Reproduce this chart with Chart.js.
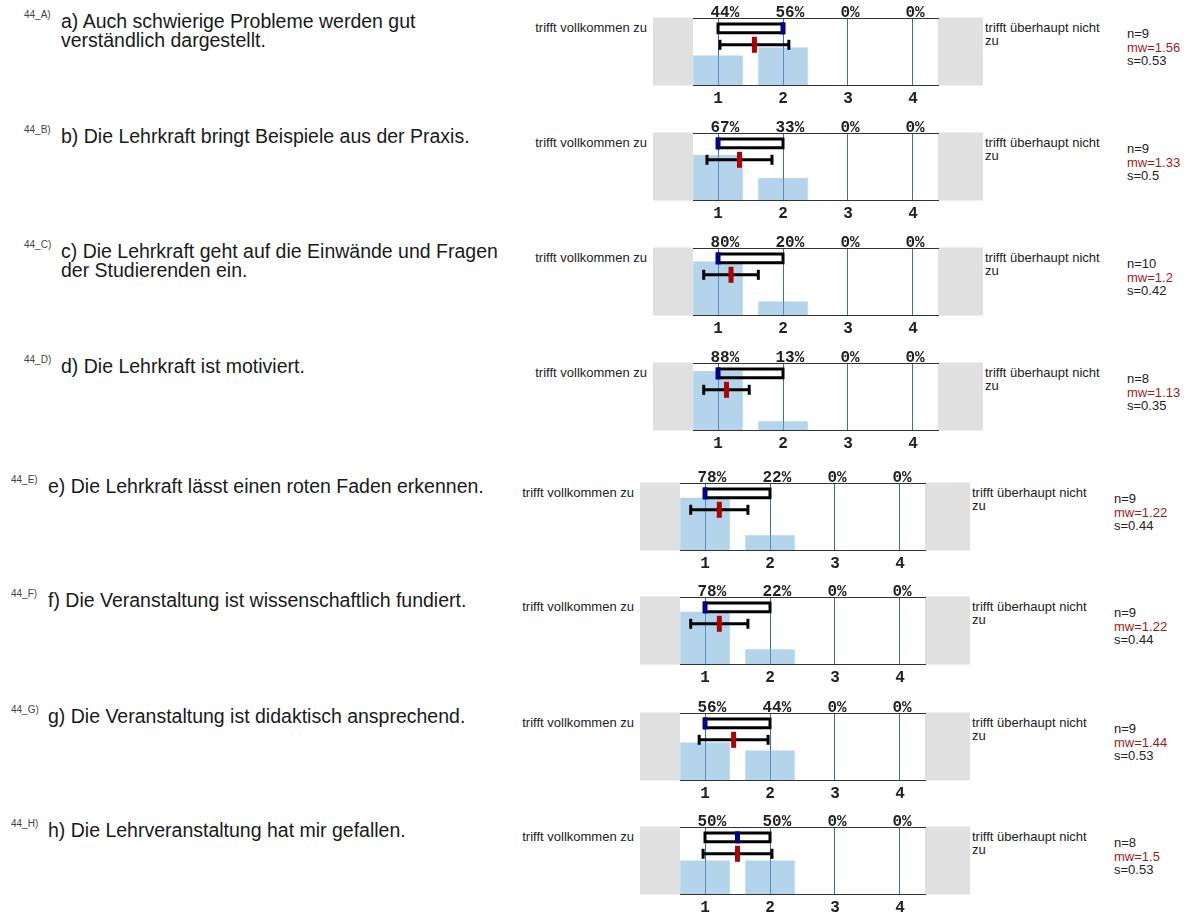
<!DOCTYPE html>
<html lang="de">
<head>
<meta charset="UTF-8">
<title>Auswertung</title>
<script src="https://cdn.jsdelivr.net/npm/chart.js"></script>
<style>
    body { margin: 0; background: #fff; width: 1189px; height: 913px; position: relative; overflow: hidden;
           font-family: "Liberation Sans", Arial, sans-serif; color: #111; }
    .row { position: absolute; left: 0; width: 1189px; height: 110px; }
    .code { position: absolute; font-size: 10px; line-height: 10px; color: #444; }
    .question { position: absolute; font-size: 19.5px; line-height: 19px; white-space: pre-line; color: #1a1a1a; }
    .pole-left { position: absolute; font-size: 13px; line-height: 13px; width: 140px; text-align: right; color: #222; }
    .pole-right { position: absolute; font-size: 13px; line-height: 13px; white-space: pre-line; color: #222; }
    .stats { position: absolute; font-size: 13px; line-height: 13.5px; color: #222; }
    .stats .mw { color: #9e1b1b; }
    canvas { position: absolute; top: 0; }
</style>
</head>
<body>
<div id="page"></div>
<script>
    // Werte aus der Auswertung
    const codes = ['44_A)', '44_B)', '44_C)', '44_D)', '44_E)', '44_F)', '44_G)', '44_H)'];
    const questions = [
        'a) Auch schwierige Probleme werden gut\nverständlich dargestellt.',
        'b) Die Lehrkraft bringt Beispiele aus der Praxis.',
        'c) Die Lehrkraft geht auf die Einwände und Fragen\nder Studierenden ein.',
        'd) Die Lehrkraft ist motiviert.',
        'e) Die Lehrkraft lässt einen roten Faden erkennen.',
        'f) Die Veranstaltung ist wissenschaftlich fundiert.',
        'g) Die Veranstaltung ist didaktisch ansprechend.',
        'h) Die Lehrveranstaltung hat mir gefallen.'
    ];
    const scaleValues = [1, 2, 3, 4];
    const percents = [
        [44, 56, 0, 0],
        [67, 33, 0, 0],
        [80, 20, 0, 0],
        [88, 13, 0, 0],
        [78, 22, 0, 0],
        [78, 22, 0, 0],
        [56, 44, 0, 0],
        [50, 50, 0, 0]
    ];
    const nValues = [9, 9, 10, 8, 9, 9, 9, 8];
    const means = [1.56, 1.33, 1.2, 1.13, 1.22, 1.22, 1.44, 1.5];
    const stdDevs = [0.53, 0.5, 0.42, 0.35, 0.44, 0.44, 0.53, 0.53];
    const quartile1 = [1, 1, 1, 1, 1, 1, 1, 1];
    const quartile3 = [2, 2, 2, 2, 2, 2, 2, 2];
    const medians = [2, 1, 1, 1, 1, 1, 1, 1.5];
    const leftPole = 'trifft vollkommen zu';
    const rightPole = 'trifft überhaupt nicht\nzu';

    // Layout
    const rowTops = [18, 133, 248, 363, 483, 597, 713, 827];
    const rowShift = [0, 0, 0, 0, -13, -13, -13, -13];
    const TOP_AXIS = 20, BOTTOM_AXIS = 22, PLOT_H = 67;
    const GRAY_L = 40, GRAY_R = 45, PLOT_W = 245;
    const BOX_HI = 91, BOX_LO = 78, ERR_Y = 60;

    const grayBoxes = {
        id: 'grayBoxes',
        beforeDraw(chart) {
            const a = chart.chartArea, ctx = chart.ctx;
            ctx.save();
            ctx.fillStyle = '#e0e0e0';
            ctx.fillRect(a.left - GRAY_L, a.top - 0.5, GRAY_L, a.bottom - a.top + 1);
            ctx.fillRect(a.right, a.top - 0.5, GRAY_R, a.bottom - a.top + 1);
            ctx.restore();
        }
    };

    function fixedTicks(scale) {
        scale.ticks = scaleValues.map(v => ({ value: v }));
    }

    const page = document.getElementById('page');

    questions.forEach((q, i) => {
        const sx = rowShift[i];
        const row = document.createElement('div');
        row.className = 'row';
        row.style.top = (rowTops[i] - TOP_AXIS) + 'px';

        const code = document.createElement('div');
        code.className = 'code';
        code.style.left = (25 + sx - 1) + 'px';
        code.style.top = '12px';
        code.textContent = codes[i];
        row.appendChild(code);

        const qt = document.createElement('div');
        qt.className = 'question';
        qt.style.left = (62 + sx - 1) + 'px';
        qt.style.top = '14px';
        qt.textContent = q;
        row.appendChild(qt);

        const chartLeft = 653 + sx;
        const pl = document.createElement('div');
        pl.className = 'pole-left';
        pl.style.left = (chartLeft - 6 - 140) + 'px';
        pl.style.top = '23px';
        pl.textContent = leftPole;
        row.appendChild(pl);

        const pr = document.createElement('div');
        pr.className = 'pole-right';
        pr.style.left = (chartLeft + GRAY_L + PLOT_W + GRAY_R + 2) + 'px';
        pr.style.top = '23px';
        pr.textContent = rightPole;
        row.appendChild(pr);

        const st = document.createElement('div');
        st.className = 'stats';
        st.style.left = (1127 + sx) + 'px';
        st.style.top = '29px';
        st.innerHTML = 'n=' + nValues[i] + '<br><span class="mw">mw=' + means[i] + '</span><br>s=' + stdDevs[i];
        row.appendChild(st);

        const canvas = document.createElement('canvas');
        canvas.width = GRAY_L + PLOT_W + GRAY_R;
        canvas.height = TOP_AXIS + PLOT_H + BOTTOM_AXIS;
        canvas.style.left = chartLeft + 'px';
        row.appendChild(canvas);
        page.appendChild(row);

        const m = means[i], s = stdDevs[i];
        new Chart(canvas.getContext('2d'), {
            type: 'scatter',
            data: {
                datasets: [
                    {
                        type: 'bar',
                        data: scaleValues.map((v, k) => ({ x: v, y: percents[i][k] })),
                        backgroundColor: 'rgba(112, 172, 216, 0.52)',
                        barPercentage: 0.763,
                        categoryPercentage: 1,
                        order: 10
                    },
                    {
                        type: 'line',
                        data: [
                            { x: quartile1[i], y: BOX_HI }, { x: quartile3[i], y: BOX_HI },
                            { x: quartile3[i], y: BOX_LO }, { x: quartile1[i], y: BOX_LO },
                            { x: quartile1[i], y: BOX_HI }
                        ],
                        borderColor: '#000',
                        borderWidth: 3,
                        borderJoinStyle: 'miter',
                        borderCapStyle: 'square',
                        pointRadius: 0,
                        fill: false,
                        order: 5
                    },
                    {
                        type: 'line',
                        data: [{ x: m - s, y: ERR_Y }, { x: m + s, y: ERR_Y }],
                        borderColor: '#000',
                        borderWidth: 3,
                        pointStyle: 'line',
                        pointRotation: 90,
                        pointRadius: 5,
                        pointBorderWidth: 3,
                        pointBorderColor: '#000',
                        fill: false,
                        order: 4
                    },
                    {
                        data: [{ x: medians[i], y: (BOX_HI + BOX_LO) / 2 }],
                        pointStyle: 'line',
                        pointRotation: 90,
                        pointRadius: 6,
                        pointBorderWidth: 5,
                        pointBorderColor: '#00008b',
                        order: 1
                    },
                    {
                        data: [{ x: m, y: ERR_Y }],
                        pointStyle: 'line',
                        pointRotation: 90,
                        pointRadius: 8,
                        pointBorderWidth: 5,
                        pointBorderColor: '#b00000',
                        order: 0
                    }
                ]
            },
            options: {
                responsive: false,
                animation: false,
                events: [],
                layout: { padding: { left: GRAY_L, right: GRAY_R, top: 0, bottom: 0 } },
                plugins: { legend: { display: false }, tooltip: { enabled: false } },
                scales: {
                    x: {
                        type: 'linear', position: 'bottom', min: 0.615, max: 4.385, bounds: 'data', offset: false,
                        afterBuildTicks: fixedTicks,
                        afterFit: sc => { sc.height = BOTTOM_AXIS; },
                        grid: { color: '#3470b4', lineWidth: 1, drawTicks: false, offset: false },
                        border: { display: true, color: '#333', width: 1 },
                        ticks: {
                            padding: 6, color: '#222',
                            font: { family: 'Liberation Mono', size: 16, weight: 'bold', lineHeight: 1 },
                            callback: v => String(v)
                        }
                    },
                    x2: {
                        type: 'linear', position: 'top', axis: 'x', min: 0.615, max: 4.385, bounds: 'data', offset: false,
                        afterBuildTicks: fixedTicks,
                        afterFit: sc => { sc.height = TOP_AXIS; },
                        grid: { display: false },
                        border: { display: true, color: '#333', width: 1 },
                        ticks: {
                            padding: -9, color: '#222', align: 'start', labelOffset: -7.5,
                            font: { family: 'Liberation Mono', size: 16, weight: 'bold', lineHeight: 0.8 },
                            callback: (v, k) => percents[i][k] + '%'
                        }
                    },
                    y: { display: false, min: 0, max: 100 }
                }
            },
            plugins: [grayBoxes]
        });
    });
</script>
</body>
</html>
